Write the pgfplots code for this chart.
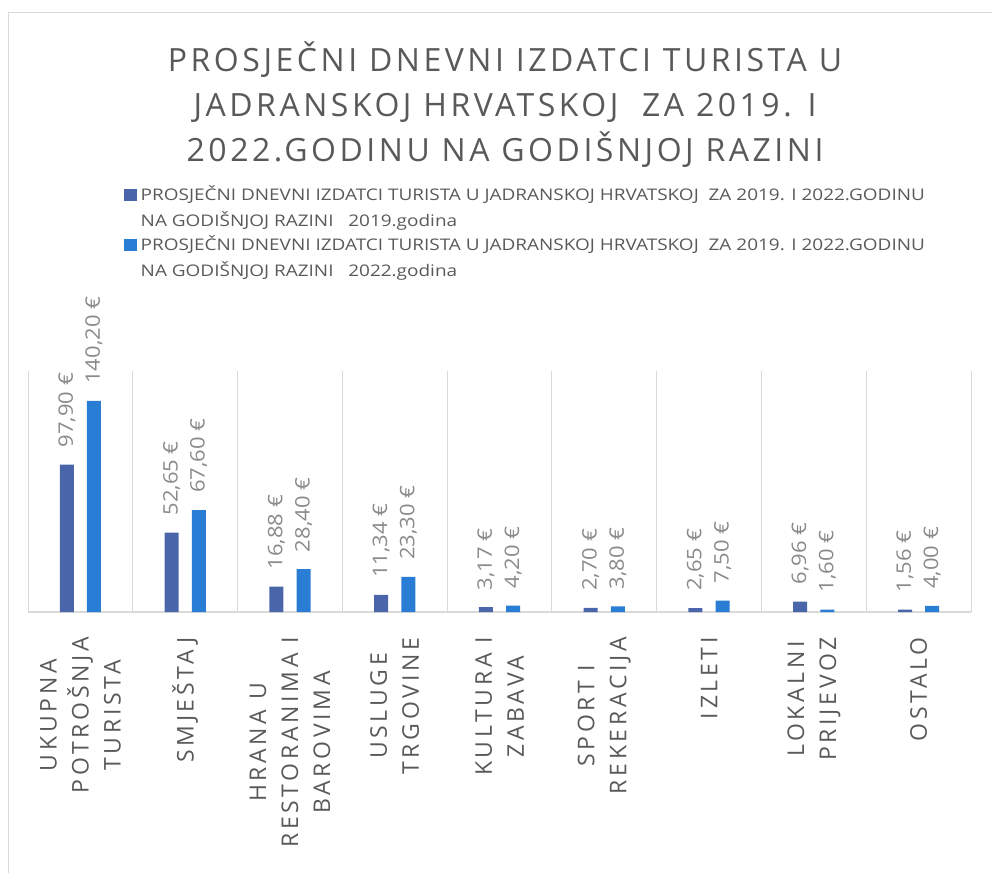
\documentclass[border=0pt]{standalone}
\usepackage{fontspec}
\setmainfont{Open Sans}
\newfontfamily\titlefont[LetterSpace=11]{Open Sans}
\newfontfamily\legfont[FakeStretch=1.185]{Open Sans}
\newfontfamily\valfont[FakeStretch=1.1]{Open Sans}
\newfontfamily\xfont[LetterSpace=16]{Open Sans}
\usepackage{pgfplots}
\pgfplotsset{compat=1.18}
\definecolor{c2019}{HTML}{4A65AA}
\definecolor{c2022}{HTML}{2A7DD5}
\definecolor{gridc}{HTML}{D9D9D9}
\definecolor{titc}{HTML}{595959}
\definecolor{labc}{HTML}{595959}
\definecolor{valc}{HTML}{8A8A8A}

\begin{document}
\begin{tikzpicture}
\useasboundingbox (0,0) rectangle (992pt,873pt);
% chart frame
\draw[gridc, line width=1pt] (8.5pt,0pt) |- (992pt,860.5pt);
\begin{axis}[
  at={(28pt,261pt)}, anchor=south west,
  scale only axis, width=943pt, height=241pt,
  xmin=-0.5, xmax=8.5, ymin=0, ymax=160,
  ybar=13.2pt, bar width=14pt,
  axis x line*=bottom, axis y line=none,
  x axis line style={-, draw=gridc, line width=1.2pt},
  xtick={0,...,8}, major tick length=0pt,
  xticklabels={{UKUPNA\\POTROŠNJA\\TURISTA}, {SMJEŠTAJ}, {HRANA U\\RESTORANIMA I\\BAROVIMA},
    {USLUGE\\TRGOVINE}, {KULTURA I\\ZABAVA}, {SPORT I\\REKERACIJA}, {IZLETI},
    {LOKALNI\\PRIJEVOZ}, {OSTALO}},
  xticklabel style={rotate=90, anchor=east, align=center, inner sep=0pt,
    font=\xfont\fontsize{23}{32}\selectfont, text=labc},
  xticklabel shift=25pt,
  minor xtick={-0.5,0.5,...,8.5}, minor tick length=0pt,
  xminorgrids, minor grid style={draw=gridc, line width=1pt},
  nodes near coords={\pgfmathprintnumber[fixed, fixed zerofill, precision=2, use comma, assume math mode=true]{\pgfplotspointmeta}~€},
  every node near coord/.append style={rotate=90, anchor=west, inner xsep=17pt, inner ysep=0pt,
    font=\valfont\fontsize{20}{24}\selectfont, text=valc},
  title={\begin{tabular}[t]{@{}c@{}}PROSJEČNI DNEVNI IZDATCI TURISTA U\\JADRANSKOJ HRVATSKOJ\ \ ZA 2019. I\\2022.GODINU NA GODIŠNJOJ RAZINI\end{tabular}},
  title style={at={(0.5,1)}, anchor=base, yshift=293pt, xshift=5.5pt, inner sep=0pt,
    font=\titlefont\fontsize{32}{45}\selectfont, text=titc},
  legend style={at={(0.1018,1.792)}, anchor=north west, draw=none, fill=none, inner sep=0pt,
    font=\legfont\fontsize{16}{26}\selectfont, text=labc,
    cells={anchor=base west, inner sep=0pt}, column sep=2pt, row sep=26pt},
  legend image code/.code={\fill[#1] (0pt,-0.3pt) rectangle (12.5pt,11.6pt);},
]
\addplot[fill=c2019, draw=none] coordinates {(0,97.90)(1,52.65)(2,16.88)(3,11.34)(4,3.17)(5,2.70)(6,2.65)(7,6.96)(8,1.56)};
\addplot[fill=c2022, draw=none] coordinates {(0,140.20)(1,67.60)(2,28.40)(3,23.30)(4,4.20)(5,3.80)(6,7.50)(7,1.60)(8,4.00)};
\legend{{\begin{tabular}[t]{@{}l@{}}PROSJEČNI DNEVNI IZDATCI TURISTA U JADRANSKOJ HRVATSKOJ\ \ ZA 2019. I 2022.GODINU\\NA GODIŠNJOJ RAZINI\ \ \ 2019.godina\end{tabular}},
  {\begin{tabular}[t]{@{}l@{}}PROSJEČNI DNEVNI IZDATCI TURISTA U JADRANSKOJ HRVATSKOJ\ \ ZA 2019. I 2022.GODINU\\NA GODIŠNJOJ RAZINI\ \ \ 2022.godina\end{tabular}}}
\end{axis}
\end{tikzpicture}
\end{document}
